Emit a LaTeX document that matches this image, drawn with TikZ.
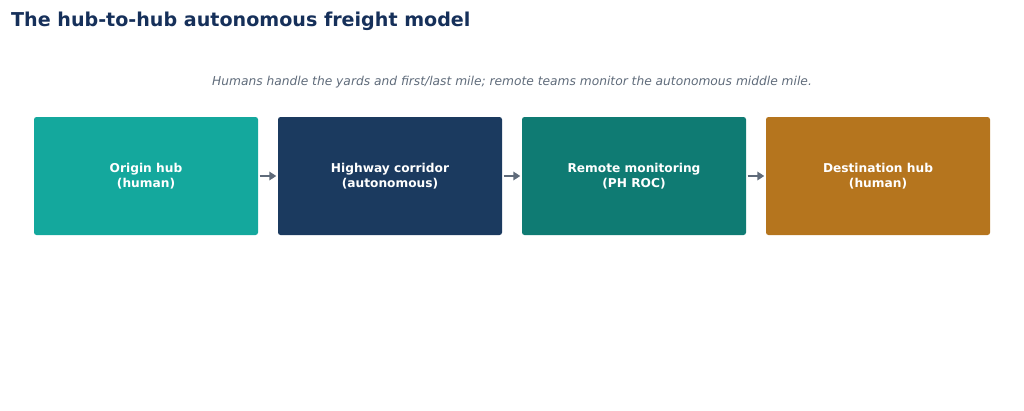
\documentclass[tikz,border=0pt]{standalone}
\usepackage{fontspec}
\setmainfont{DejaVu Sans}
\usetikzlibrary{arrows.meta}

\begin{document}
\begin{tikzpicture}[x=1pt, y=-1pt,
    stage/.style={rectangle, rounded corners=2.5pt, minimum width=224pt, minimum height=118pt,
        inner sep=0pt, align=center, text=white, font=\fontsize{12.2}{14.5}\selectfont\bfseries},
    flow/.style={draw=arrowgray, line width=2.4pt, -{Triangle[length=7pt, width=8.5pt]}}]
    \definecolor{titleblue}{HTML}{16305A}
    \definecolor{subgray}{HTML}{5F6B7A}
    \definecolor{arrowgray}{HTML}{5F6B7A}
    \definecolor{stage1}{HTML}{14A89D}
    \definecolor{stage2}{HTML}{1B3A5F}
    \definecolor{stage3}{HTML}{0F7B73}
    \definecolor{stage4}{HTML}{B5751E}

    \useasboundingbox (0,0) rectangle (1024,410);

    % heading
    \node[anchor=base west, inner sep=0pt, text=titleblue, font=\fontsize{19.1}{22}\selectfont\bfseries]
        (title) at (11,26) {The hub-to-hub autonomous freight model};
    \node[anchor=base, inner sep=0pt, text=subgray, font=\fontsize{12.25}{15}\selectfont\itshape]
        (sub) at (512,85.5) {Humans handle the yards and first/last mile; remote teams monitor the autonomous middle mile.};

    % stages
    \node[stage, fill=stage1] (origin) at (146,176) {Origin hub\\(human)};
    \node[stage, fill=stage2] (highway) at (390,176) {Highway corridor\\(autonomous)};
    \node[stage, fill=stage3] (roc) at (634,176) {Remote monitoring\\(PH ROC)};
    \node[stage, fill=stage4] (dest) at (878,176) {Destination hub\\(human)};

    % hand-offs
    \draw[flow] ([xshift=1.5pt]origin.east) -- ([xshift=-1.5pt]highway.west);
    \draw[flow] ([xshift=1.5pt]highway.east) -- ([xshift=-1.5pt]roc.west);
    \draw[flow] ([xshift=1.5pt]roc.east) -- ([xshift=-1.5pt]dest.west);
\end{tikzpicture}
\end{document}
